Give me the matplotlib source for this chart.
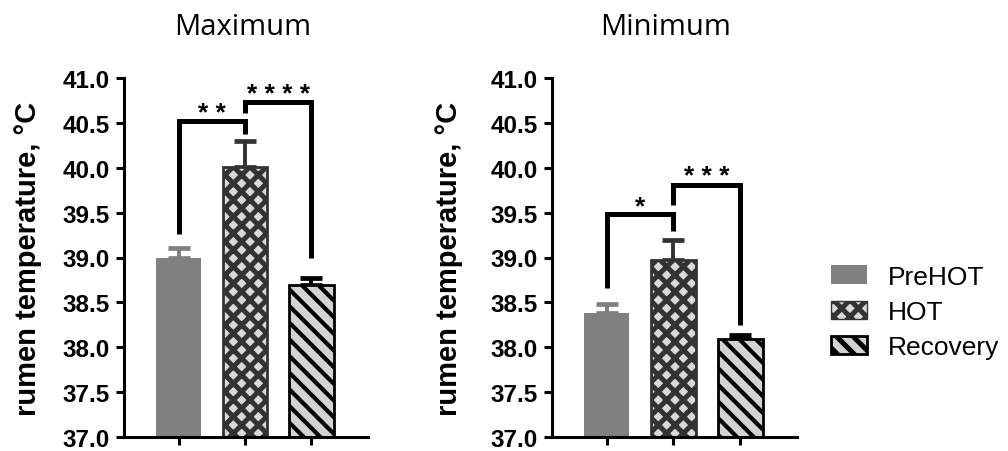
import numpy as np
import matplotlib
matplotlib.use("Agg")
import matplotlib.pyplot as plt
from matplotlib.patches import Patch

# data
groups = ["PreHOT", "HOT", "Recovery"]
max_mean = [38.99, 40.01, 38.69]
max_sem = [0.12, 0.29, 0.08]
min_mean = [38.38, 38.97, 38.09]
min_sem = [0.10, 0.22, 0.05]

# significance brackets: (left bar, right bar, height, left leg end, right leg end, label)
max_sig = [(0, 1, 40.52, 39.26, 40.38, "**"),
           (1, 2, 40.73, 40.61, 39.00, "****")]
min_sig = [(0, 1, 39.48, 38.66, 39.30, "*"),
           (1, 2, 39.81, 39.58, 38.25, "***")]

yticks = [37.0, 37.5, 38.0, 38.5, 39.0, 39.5, 40.0, 40.5, 41.0]

# styles
face = ["#808080", "#d9d9d9", "#d3d3d3"]
edge = ["#808080", "#333333", "#000000"]
hatch = [None, "xx", "\\\\"]
hatch_lw = [1.0, 3.6, 3.0]

plt.rcParams["font.family"] = ["Liberation Sans", "DejaVu Sans"]

fig = plt.figure(figsize=(10.08, 4.52), dpi=100)
ax1 = fig.add_axes([124 / 1008, 1 - 438 / 452, 244 / 1008, 359 / 452])
ax2 = fig.add_axes([552 / 1008, 1 - 438 / 452, 245 / 1008, 359 / 452])

x = np.arange(len(groups))


def draw_panel(ax, means, sems, sigs, label_x):
    for i in range(len(groups)):
        with plt.rc_context({"hatch.linewidth": hatch_lw[i]}):
            b = ax.bar(x[i], means[i] - 37.0, bottom=37.0, width=0.67,
                       color=face[i], edgecolor=edge[i], hatch=hatch[i],
                       linewidth=2.0 if i else 0, zorder=2)
        for p in b:
            if hasattr(p, "set_hatch_linewidth"):
                p.set_hatch_linewidth(hatch_lw[i])
        ax.errorbar(x[i], means[i], yerr=[[0], [sems[i]]], fmt="none",
                    ecolor=edge[i], elinewidth=2.8, capsize=8, capthick=3.4,
                    zorder=1)
    for a, b2, h, l1, l2, txt in sigs:
        ax.plot([x[a], x[a], x[b2], x[b2]], [l1, h, h, l2], color="black",
                lw=3.6, solid_joinstyle="miter", solid_capstyle="butt",
                zorder=3, clip_on=False)
        ax.text((x[a] + x[b2]) / 2, h + 0.015, " ".join(txt), ha="center",
                va="baseline", fontsize=19, fontweight="bold")

    ax.set_xlim(-0.82, 2.85)
    ax.set_ylim(37.0, 41.0)
    ax.set_yticks(yticks)
    ax.set_yticklabels([f"{t:.1f}" for t in yticks])
    ax.set_xticks(x)
    ax.set_xticklabels([])
    for s in ["top", "right"]:
        ax.spines[s].set_visible(False)
    for s in ["left", "bottom"]:
        ax.spines[s].set_linewidth(2.2)
    ax.tick_params(axis="both", width=2.2, length=6, direction="out",
                   labelsize=17.5, pad=4)
    for lab in ax.get_yticklabels():
        lab.set_fontweight("bold")
    ax.set_ylabel("rumen temperature, °C", fontsize=21, fontweight="bold")
    ax.yaxis.set_label_coords(label_x, 0.5)


draw_panel(ax1, max_mean, max_sem, max_sig, -0.336)
draw_panel(ax2, min_mean, min_sem, min_sig, -0.363)

fig.text(243 / 1008, 1 - 35 / 452, "Maximum", ha="center", va="baseline",
         fontsize=21, family="Open Sans")
fig.text(666 / 1008, 1 - 35 / 452, "Minimum", ha="center", va="baseline",
         fontsize=21, family="Open Sans")

handles = []
for i in range(len(groups)):
    with plt.rc_context({"hatch.linewidth": hatch_lw[i]}):
        h = Patch(facecolor=face[i], edgecolor=edge[i], hatch=hatch[i],
                  linewidth=[0, 1.0, 2.0][i], label=groups[i])
    if hasattr(h, "set_hatch_linewidth"):
        h.set_hatch_linewidth(hatch_lw[i])
    handles.append(h)
with plt.rc_context({"hatch.linewidth": 3.6}):
    fig.legend(handles=handles, loc="center left",
               bbox_to_anchor=(818 / 1008, 1 - 313 / 452), frameon=False,
               fontsize=19, handlelength=1.36, handleheight=0.7,
               handletextpad=0.8, labelspacing=0.42, borderpad=0)

fig.savefig("out.png", dpi=100)
